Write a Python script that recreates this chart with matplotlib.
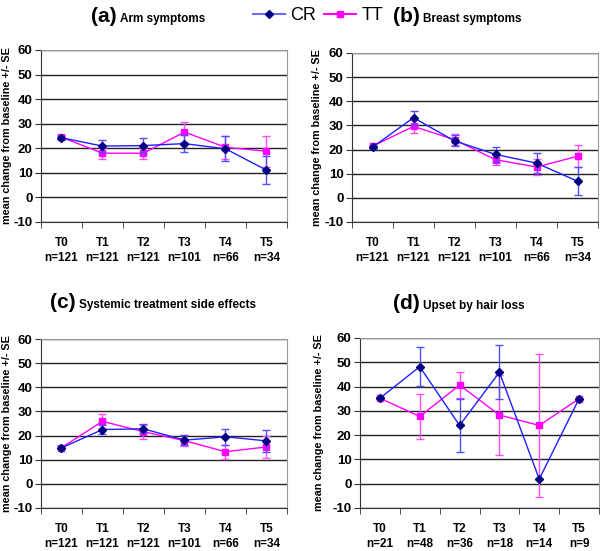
import matplotlib.pyplot as plt
from matplotlib.lines import Line2D

plt.rcParams['font.family'] = ['Liberation Sans', 'DejaVu Sans']

times = ['T0', 'T1', 'T2', 'T3', 'T4', 'T5']
n_main = [121, 121, 121, 101, 66, 34]
n_hair = [21, 48, 36, 18, 14, 9]

# (a) Arm symptoms
cr_arm = [24.3, 20.9, 21.1, 21.9, 19.8, 11.1]
cr_arm_se = [0.8, 2.6, 3.0, 3.6, 5.0, 5.7]
tt_arm = [24.5, 18.0, 18.0, 26.6, 20.4, 18.8]
tt_arm_se = [0.8, 2.3, 2.3, 3.9, 4.6, 6.4]

# (b) Breast symptoms
cr_breast = [21.0, 33.2, 23.6, 18.0, 14.4, 6.9]
cr_breast_se = [0.6, 2.9, 2.3, 3.0, 4.3, 5.7]
tt_breast = [21.4, 29.6, 24.1, 15.8, 12.8, 17.2]
tt_breast_se = [0.8, 2.7, 2.2, 2.0, 3.3, 4.5]

# (c) Systemic treatment side effects
cr_sys = [14.9, 22.5, 22.8, 18.1, 19.5, 17.8]
cr_sys_se = [0.6, 1.8, 1.9, 2.2, 3.4, 4.6]
tt_sys = [15.0, 25.9, 21.6, 17.9, 13.3, 15.3]
tt_sys_se = [0.6, 2.9, 2.9, 2.4, 3.0, 4.4]

# (d) Upset by hair loss
cr_hair = [35.2, 48.2, 24.0, 45.9, 1.9, 35.0]
cr_hair_se = [0.5, 8.1, 11.0, 11.1, 0.0, 0.0]
tt_hair = [35.2, 27.7, 40.6, 28.3, 24.0, 35.0]
tt_hair_se = [0.5, 9.2, 5.3, 16.5, 29.3, 0.0]

# tag, subtitle, data..., axes box (px: left, bottom, w, h), title split x, title y, ylabel x
panels = [
    ('(a)', 'Arm symptoms', cr_arm, cr_arm_se, tt_arm, tt_arm_se, n_main,
     [41, 329, 246, 172], 117, 22, 7),
    ('(b)', 'Breast symptoms', cr_breast, cr_breast_se, tt_breast, tt_breast_se, n_main,
     [352, 329, 246, 169], 420, 22, 317),
    ('(c)', 'Systemic treatment side effects', cr_sys, cr_sys_se, tt_sys, tt_sys_se, n_main,
     [41, 43, 246, 169], 76, 308, 7),
    ('(d)', 'Upset by hair loss', cr_hair, cr_hair_se, tt_hair, tt_hair_se, n_hair,
     [360, 43, 239, 170], 420, 309, 319),
]

W, H = 600, 551
fig = plt.figure(figsize=(6.0, 5.51), dpi=100)

cr_line = '#1f1fff'
cr_mark = '#000080'
cr_err = '#5050ff'
tt_col = '#ff00ff'
tt_err = '#ff4dff'

for tag, name, cr, cr_se, tt, tt_se, ns, box, split_x, title_y, lab_x in panels:
    ax = fig.add_axes([box[0] / W, box[1] / H, box[2] / W, box[3] / H])
    x = [i + 0.5 for i in range(len(times))]
    ax.errorbar(x, cr, yerr=cr_se, color=cr_line, ecolor=cr_err, elinewidth=1,
                capsize=3, capthick=1, marker='D', markersize=4,
                markerfacecolor=cr_mark, markeredgecolor=cr_mark, lw=1, zorder=4)
    ax.errorbar(x, tt, yerr=tt_se, color=tt_col, ecolor=tt_err, elinewidth=1,
                capsize=3, capthick=1, marker='s', markersize=5,
                markerfacecolor=tt_col, markeredgecolor=tt_col, lw=1, zorder=3)
    ax.set_xlim(0, 6)
    ax.set_ylim(-10, 60)
    ax.set_yticks(range(-10, 61, 10))
    ax.set_yticklabels([str(v) for v in range(-10, 61, 10)], fontsize=9.5, fontweight='bold')
    ax.set_xticks(x)
    ax.set_xticklabels(['%s\nn=%d' % (t, n) for t, n in zip(times, ns)],
                       fontsize=8.5, fontweight='bold', linespacing=1.35)
    ax.set_xticks(range(7), minor=True)
    ax.tick_params(axis='x', which='major', length=0, pad=11)
    ax.tick_params(axis='x', which='minor', length=4, color='#333333')
    ax.tick_params(axis='y', length=4, color='#333333', pad=2)
    ax.grid(axis='y', color='#222222', lw=1)
    ax.set_axisbelow(True)
    for s in ['top', 'right']:
        ax.spines[s].set_color('#999999')
    for s in ['left', 'bottom']:
        ax.spines[s].set_color('#333333')
    fig.text(lab_x / W, (box[1] + box[3] / 2) / H, 'mean change from baseline +/- SE',
             fontsize=7.8, fontweight='bold', rotation=90, ha='center', va='center')
    fig.text(split_x / W, 1 - title_y / H, tag, fontsize=15, fontweight='bold',
             ha='right', va='baseline')
    fig.text((split_x + 3) / W, 1 - title_y / H, name, fontsize=8.5, fontweight='bold',
             ha='left', va='baseline')

h_cr = Line2D([], [], color='#6a6aff', lw=1.5, marker='D', markersize=4.5,
              markerfacecolor=cr_mark, markeredgecolor=cr_mark)
h_tt = Line2D([], [], color=tt_col, lw=1.5, marker='s', markersize=5,
              markerfacecolor=tt_col, markeredgecolor=tt_col)
fig.legend([h_cr, h_tt], ['CR', 'TT'], loc='center', bbox_to_anchor=(318 / W, 1 - 16 / H),
           ncol=2, frameon=False, fontsize=13, handlelength=1.8, columnspacing=0.4,
           handletextpad=0.3)

plt.savefig('out.png', dpi=100)
